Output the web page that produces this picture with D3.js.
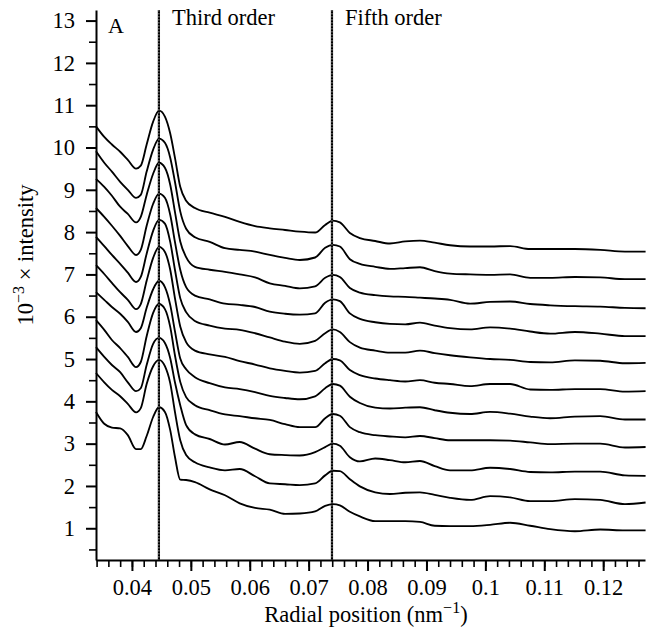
<!DOCTYPE html>
<html>
<head>
<meta charset="utf-8">
<title>Radial intensity profiles</title>
<style>
  body { margin: 0; background: #fff; }
  svg { display: block; }
  svg text { font-family: "Liberation Serif", "Times New Roman", serif; fill: #000; }
  .curve { fill: none; stroke: #000; stroke-width: 1.85; stroke-linejoin: round; }
  .axis path, .axis line { stroke: #000; }
</style>
</head>
<body>
<div id="chart"></div>
<script src="https://d3js.org/d3.v7.min.js"></script>
<script>
// radial positions (nm^-1) shared by all profiles
const radial = [0.0339, 0.0353, 0.0366, 0.0380, 0.0393, 0.0407, 0.0415, 0.0425, 0.0436, 0.0446,
  0.0456, 0.0465, 0.0473, 0.0482, 0.0492, 0.0507, 0.0532, 0.0558, 0.0583, 0.0609,
  0.0634, 0.0660, 0.0685, 0.0711, 0.0728, 0.0741, 0.0753, 0.0770, 0.0787, 0.0813,
  0.0838, 0.0864, 0.0889, 0.0914, 0.0940, 0.0974, 0.1008, 0.1042, 0.1076, 0.1110,
  0.1152, 0.1195, 0.1237, 0.1272];

// 10^-3 x intensity, top profile first
const profile1 = [10.50,10.25,10.07,9.90,9.71,9.50,9.57,10.07,10.61,10.87,10.73,10.33,9.76,9.07,8.74,8.57,8.46,8.36,8.24,8.14,8.09,8.05,8.01,7.99,8.17,8.27,8.23,7.98,7.86,7.79,7.73,7.78,7.80,7.75,7.69,7.66,7.66,7.67,7.60,7.60,7.60,7.58,7.54,7.54];
const profile2 = [9.91,9.64,9.43,9.19,9.00,8.81,8.88,9.43,9.95,10.21,10.11,9.76,9.19,8.49,8.08,7.88,7.77,7.62,7.58,7.54,7.46,7.39,7.34,7.40,7.63,7.70,7.66,7.36,7.25,7.18,7.13,7.15,7.17,7.08,7.02,7.00,6.99,7.00,6.92,6.92,6.94,6.93,6.89,6.89];
const profile3 = [9.26,9.07,8.86,8.60,8.43,8.23,8.36,8.88,9.38,9.64,9.52,9.12,8.48,7.78,7.41,7.18,7.11,7.06,7.00,6.93,6.79,6.73,6.67,6.72,6.92,6.99,6.94,6.68,6.57,6.51,6.48,6.47,6.45,6.43,6.40,6.31,6.35,6.36,6.30,6.27,6.25,6.24,6.21,6.20];
const profile4 = [8.57,8.36,8.15,7.91,7.67,7.46,7.58,8.15,8.67,8.91,8.81,8.41,7.77,7.11,6.70,6.50,6.41,6.31,6.28,6.23,6.12,6.07,6.05,6.08,6.33,6.41,6.37,6.08,5.95,5.87,5.83,5.82,5.86,5.79,5.73,5.70,5.75,5.72,5.65,5.60,5.64,5.60,5.54,5.54];
const profile5 = [7.89,7.67,7.46,7.25,7.04,6.82,6.94,7.49,8.03,8.29,8.20,7.77,7.11,6.44,6.11,5.90,5.79,5.72,5.69,5.61,5.51,5.41,5.36,5.43,5.61,5.70,5.64,5.40,5.27,5.20,5.15,5.15,5.20,5.14,5.09,5.04,5.00,4.98,4.93,4.92,4.97,4.96,4.90,4.91];
const profile6 = [7.22,7.01,6.80,6.58,6.40,6.18,6.30,6.85,7.39,7.65,7.53,7.11,6.44,5.77,5.40,5.20,5.11,5.05,4.95,4.87,4.78,4.72,4.68,4.72,4.90,5.00,4.97,4.74,4.62,4.54,4.50,4.47,4.50,4.44,4.41,4.36,4.41,4.41,4.28,4.27,4.29,4.29,4.23,4.24];
const profile7 = [6.58,6.40,6.23,6.07,5.88,5.64,5.73,6.21,6.65,6.85,6.70,6.28,5.66,5.01,4.76,4.57,4.43,4.33,4.29,4.22,4.13,4.08,4.05,4.12,4.31,4.41,4.37,4.11,3.96,3.85,3.83,3.85,3.86,3.79,3.73,3.70,3.75,3.71,3.64,3.60,3.64,3.65,3.57,3.57];
const profile8 = [5.92,5.69,5.45,5.26,5.05,4.81,4.93,5.54,6.09,6.30,6.18,5.76,5.09,4.46,4.10,3.91,3.79,3.69,3.65,3.60,3.56,3.46,3.39,3.39,3.60,3.70,3.66,3.39,3.27,3.20,3.17,3.15,3.18,3.13,3.08,3.08,3.08,3.07,3.03,2.99,3.00,3.00,2.91,2.92];
const profile9 = [5.28,5.05,4.86,4.69,4.45,4.24,4.31,4.86,5.36,5.50,5.38,5.02,4.45,3.91,3.44,3.22,3.11,2.98,3.04,2.88,2.75,2.73,2.72,2.80,2.92,3.00,2.95,2.68,2.58,2.65,2.61,2.56,2.59,2.47,2.37,2.37,2.43,2.40,2.33,2.32,2.34,2.34,2.25,2.24];
const profile10 = [4.67,4.45,4.27,4.12,3.94,3.74,3.84,4.41,4.83,4.98,4.83,4.43,3.75,3.08,2.73,2.56,2.44,2.37,2.40,2.23,2.06,2.04,2.02,2.06,2.25,2.36,2.35,2.16,1.99,1.85,1.81,1.84,1.85,1.79,1.72,1.67,1.76,1.73,1.64,1.64,1.69,1.67,1.57,1.61];
const profile11 = [3.75,3.47,3.38,3.36,3.20,2.87,2.87,3.18,3.63,3.86,3.75,3.32,2.69,2.15,2.14,2.09,1.92,1.78,1.59,1.48,1.44,1.34,1.35,1.40,1.53,1.57,1.54,1.39,1.28,1.17,1.17,1.17,1.15,1.06,1.05,1.05,1.08,1.13,1.06,0.98,0.93,0.97,0.95,0.95];
const profiles = [profile1, profile2, profile3, profile4, profile5, profile6, profile7, profile8, profile9, profile10, profile11];

// reflection markers
const orderPositions = [0.04458, 0.07396];
const orderLabels = ["Third order", "Fifth order"];

// ticks
const xMajor = [0.04, 0.05, 0.06, 0.07, 0.08, 0.09, 0.10, 0.11, 0.12];
const xMajorLabels = ["0.04", "0.05", "0.06", "0.07", "0.08", "0.09", "0.1", "0.11", "0.12"];
const xMinor = d3.range(34, 128, 2).map(d => d / 1000);
const yMajor = [1, 2, 3, 4, 5, 6, 7, 8, 9, 10, 11, 12, 13];
const yMinor = d3.range(0.5, 13.5, 1);

const W = 653, H = 633;
const margin = { top: 10, right: 8, bottom: 73, left: 96 };
const serif = '"Liberation Serif", "Times New Roman", serif';

const svg = d3.select("#chart").append("svg")
  .attr("width", W).attr("height", H);

const x = d3.scaleLinear().domain([0.0339, 0.1271]).range([margin.left, W - margin.right]);
const y = d3.scaleLinear().domain([0.25, 13.25]).range([H - margin.bottom, margin.top]);

// profiles
const line = d3.line()
  .x((d, i) => x(radial[i]))
  .y(d => y(d))
  .curve(d3.curveMonotoneX);

svg.append("g").selectAll("path")
  .data(profiles)
  .join("path")
  .attr("class", "curve")
  .attr("d", line);

// vertical order lines (black with a white dotted core)
const markers = svg.append("g");
markers.selectAll("line.outer")
  .data(orderPositions)
  .join("line")
  .attr("class", "outer")
  .attr("x1", d => x(d)).attr("x2", d => x(d))
  .attr("y1", margin.top).attr("y2", H - margin.bottom)
  .attr("stroke", "#000").attr("stroke-width", 2.2);
markers.selectAll("line.inner")
  .data(orderPositions)
  .join("line")
  .attr("class", "inner")
  .attr("x1", d => x(d)).attr("x2", d => x(d))
  .attr("y1", margin.top).attr("y2", H - margin.bottom)
  .attr("stroke", "#fff").attr("stroke-width", 0.6)
  .attr("stroke-dasharray", "1.5,1.5");

markers.selectAll("text")
  .data(orderPositions)
  .join("text")
  .attr("x", d => x(d) + 13)
  .attr("y", 25)
  .style("font-size", "22.5px")
  .text((d, i) => orderLabels[i]);

svg.append("text")
  .attr("x", 108).attr("y", 33)
  .style("font-size", "22px")
  .text("A");

// axes
const xAxisY = H - margin.bottom;
const styleText = g => g.selectAll("text").style("font-family", serif).style("font-size", "22.5px");

svg.append("g")
  .attr("class", "axis")
  .attr("transform", `translate(0,${xAxisY})`)
  .call(d3.axisBottom(x).tickValues(xMinor).tickSize(7).tickSizeOuter(0).tickFormat(""))
  .call(g => g.select(".domain").attr("stroke-width", 2))
  .call(g => g.selectAll(".tick line").attr("stroke-width", 1.6));

svg.append("g")
  .attr("class", "axis")
  .attr("transform", `translate(0,${xAxisY})`)
  .call(d3.axisBottom(x).tickValues(xMajor).tickSize(11).tickSizeOuter(0).tickPadding(8)
    .tickFormat((d, i) => xMajorLabels[i]))
  .call(g => g.select(".domain").remove())
  .call(g => g.selectAll(".tick line").attr("stroke-width", 2))
  .call(styleText);

svg.append("g")
  .attr("class", "axis")
  .attr("transform", `translate(${margin.left},0)`)
  .call(d3.axisLeft(y).tickValues(yMinor).tickSize(7).tickSizeOuter(0).tickFormat(""))
  .call(g => g.select(".domain").attr("stroke-width", 2))
  .call(g => g.selectAll(".tick line").attr("stroke-width", 1.6));

svg.append("g")
  .attr("class", "axis")
  .attr("transform", `translate(${margin.left},0)`)
  .call(d3.axisLeft(y).tickValues(yMajor).tickSize(10).tickSizeOuter(0).tickPadding(11))
  .call(g => g.select(".domain").remove())
  .call(g => g.selectAll(".tick line").attr("stroke-width", 2))
  .call(styleText);

// axis titles
const xt = svg.append("text")
  .attr("x", 366).attr("y", 622)
  .attr("text-anchor", "middle")
  .style("font-size", "22.5px");
xt.append("tspan").text("Radial position (nm");
xt.append("tspan").style("font-size", "16px").attr("dy", -9).text("\u22121");
xt.append("tspan").attr("dy", 9).text(")");

const yt = svg.append("text")
  .attr("transform", "translate(33,255) rotate(-90)")
  .attr("text-anchor", "middle")
  .style("font-size", "22.5px");
yt.append("tspan").text("10");
yt.append("tspan").style("font-size", "16px").attr("dy", -9).text("\u22123");
yt.append("tspan").attr("dy", 9).text(" \u00d7 intensity");
</script>
</body>
</html>
